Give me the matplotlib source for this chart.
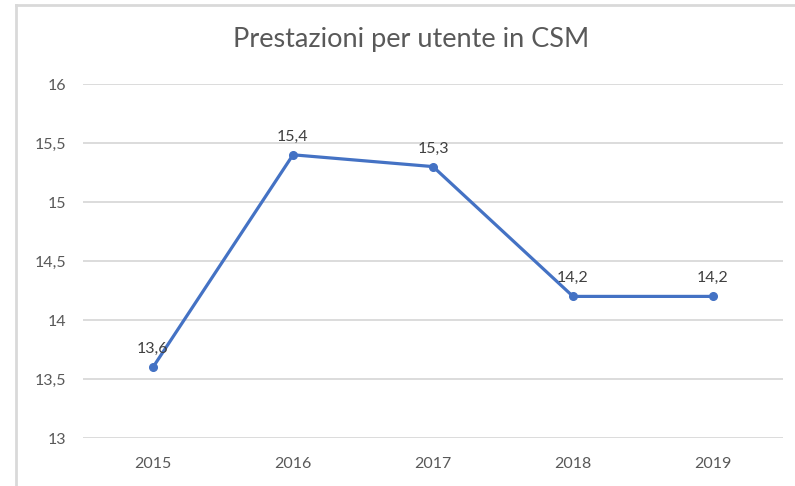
import matplotlib.pyplot as plt
from matplotlib.lines import Line2D
from matplotlib.ticker import FuncFormatter

# data
years = ['2015', '2016', '2017', '2018', '2019']
prestazioni = [13.6, 15.4, 15.3, 14.2, 14.2]
yticks = [13, 13.5, 14, 14.5, 15, 15.5, 16]

plt.rcParams['font.family'] = ['Lato', 'DejaVu Sans']

fig = plt.figure(figsize=(7.95, 4.86), dpi=100)
ax = fig.add_axes([83/795, 1 - 438/486, 700/795, (438 - 84)/486])

x = list(range(len(years)))
ax.plot(x, prestazioni, color='#4472C4', lw=2.3, marker='o', ms=5.5, zorder=3)

# data labels
for xi, v in zip(x, prestazioni):
    ax.annotate(f'{v:.1f}'.replace('.', ','), (xi, v), xytext=(0, 8),
                textcoords='offset points', ha='center', va='bottom',
                fontsize=11.5, color='#404040')

ax.set_xlim(-0.5, len(years) - 0.5)
ax.set_ylim(13, 16)
ax.set_xticks(x)
ax.set_xticklabels(years)
ax.set_yticks(yticks)
ax.yaxis.set_major_formatter(FuncFormatter(lambda v, p: f'{v:g}'.replace('.', ',')))
ax.tick_params(length=0, labelsize=11.5, labelcolor='#595959')
ax.tick_params(axis='x', pad=14)
ax.tick_params(axis='y', pad=12)
ax.grid(axis='y', color='#d9d9d9', lw=1.3)
ax.set_axisbelow(True)
for s in ax.spines.values():
    s.set_visible(False)

fig.text(411/795, 1 - 40/486, 'Prestazioni per utente in CSM', ha='center', va='center',
         fontsize=19.5, color='#595959')

# outer frame (left and top edges only)
fig.add_artist(Line2D([16/795, 16/795], [0, 1 - 5/486], color='#d9d9d9', lw=2))
fig.add_artist(Line2D([16/795, 1], [1 - 5/486, 1 - 5/486], color='#d9d9d9', lw=2))

fig.savefig('out.png', dpi=100)
